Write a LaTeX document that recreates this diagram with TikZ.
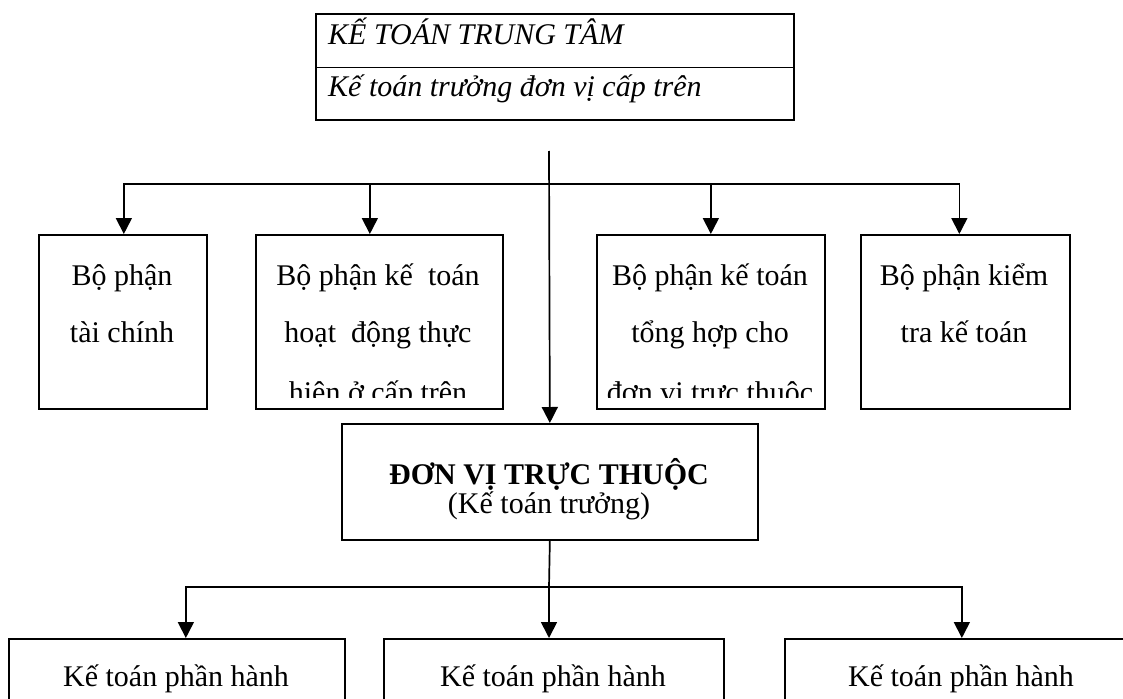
\documentclass[tikz,border=0pt]{standalone}
\usepackage{fontspec}
\setmainfont{Liberation Serif}
\usetikzlibrary{arrows.meta}
\begin{document}
\begin{tikzpicture}[x=1pt,y=-1pt,
  box/.style={draw, line width=1.7pt, inner sep=0pt, anchor=north west},
  lbl/.style={anchor=base, inner sep=0pt, font=\fontsize{30}{36}\selectfont},
  conn/.style={line width=1.7pt},
  arr/.style={line width=1.7pt, -{Triangle[width=16pt,length=16pt]}}]
\clip (0,0) rectangle (1123,698);
\useasboundingbox (0,0) rectangle (1123,698);
% top box
\node[box, line width=2.4pt, minimum width=478pt, minimum height=106pt] (tb) at (315,13) {};
\draw[line width=1.2pt] (tb.west) -- (tb.east);
\node[lbl, anchor=base west, font=\fontsize{30}{36}\selectfont\itshape] (t1) at (328,45) {KẾ TOÁN TRUNG TÂM};
\node[lbl, anchor=base west, font=\fontsize{30}{36}\selectfont\itshape] (t2) at (328,96) {Kế toán trưởng đơn vị cấp trên};
% upper boxes
\node[box, minimum width=168pt, minimum height=174pt] (b1) at (38,234) {};
\node[box, minimum width=247pt, minimum height=174pt] (b2) at (255,234) {};
\node[box, minimum width=228pt, minimum height=174pt] (b3) at (596,234) {};
\node[box, minimum width=209pt, minimum height=174pt] (b4) at (860,234) {};
\node[lbl] (b1a) at (122,285) {Bộ phận};
\node[lbl] (b1b) at (122,342) {tài chính};
\begin{scope}
\clip (b2.north west) rectangle ([yshift=12pt]b2.south east);
\node[lbl] (b2a) at (378,285) {Bộ phận kế\ \ toán};
\node[lbl] (b2b) at (378,342) {hoạt\ \ động thực};
\node[lbl] (b2c) at (378,402) {hiện ở cấp trên};
\end{scope}
\begin{scope}
\clip (b3.north west) rectangle ([yshift=12pt]b3.south east);
\node[lbl] (b3a) at (710,285) {Bộ phận kế toán};
\node[lbl] (b3b) at (710,342) {tổng hợp cho};
\node[lbl] (b3c) at (710,402) {đơn vị trực thuộc};
\end{scope}
\node[lbl] (b4a) at (964,285) {Bộ phận kiểm};
\node[lbl] (b4b) at (964,342) {tra kế toán};
% middle box
\node[box, minimum width=416pt, minimum height=116pt] (dv) at (341,423) {};
\node[lbl, font=\fontsize{30}{36}\selectfont\bfseries] (dv1) at (549,484) {ĐƠN VỊ TRỰC THUỘC};
\node[lbl] (dv2) at (549,513) {(Kế toán trưởng)};
% bottom boxes
\node[box, minimum width=336pt, minimum height=110pt] (k1) at (8,638) {};
\node[box, minimum width=340pt, minimum height=110pt] (k2) at (383,638) {};
\node[box, minimum width=354pt, minimum height=110pt] (k3) at (784,638) {};
\node[lbl] (k1t) at (176,686) {Kế toán phần hành};
\node[lbl] (k2t) at (553,686) {Kế toán phần hành};
\node[lbl] (k3t) at (961,686) {Kế toán phần hành};
% connectors
\coordinate (top) at (549,151);
\coordinate (br) at (549,184);
\coordinate (lb) at (549,587);
\draw[arr] (top) -- (dv.north);
\draw[arr] (br) -| ([xshift=1pt]b1.north);
\draw[arr] (br) -| ([xshift=-9.5pt]b2.north);
\draw[arr] (br) -| (b3.north);
\draw[arr] (br) -| ([xshift=-6pt]b4.north);
\draw[conn] (dv.south) -- (lb);
\draw[arr] (lb) -| ([xshift=9pt]k1.north);
\draw[arr] (lb) -- (lb |- k2.north);
\draw[arr] (lb) -| (k3.north);
\end{tikzpicture}
\end{document}
